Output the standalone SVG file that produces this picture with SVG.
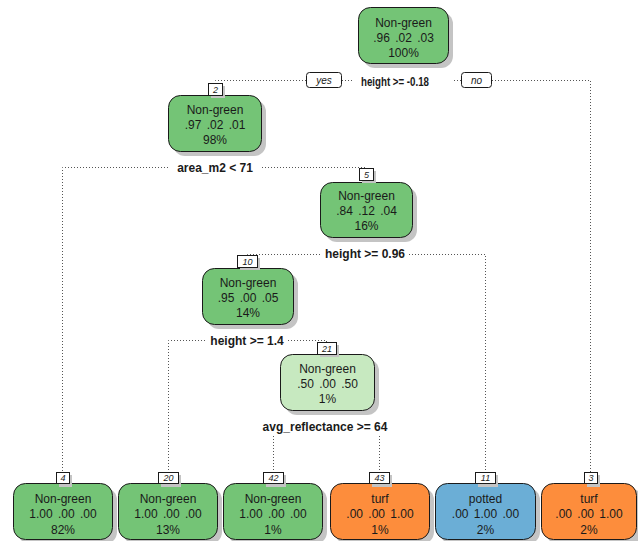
<svg xmlns="http://www.w3.org/2000/svg" width="638" height="541" viewBox="0 0 638 541">
<style>
.bx{stroke:#1a1a1a;stroke-width:1}
.g{fill:#74c476}
.lg{fill:#c7e9c0}
.o{fill:#fd8d3c}
.b{fill:#6baed6}
.sh{fill:#c4c4c4}
.t{font-family:"Liberation Sans",Arial,sans-serif;font-size:12px;fill:#1a1a1a;text-anchor:middle;word-spacing:2px}
.s{font-family:"Liberation Sans",Arial,sans-serif;font-size:12px;font-weight:bold;fill:#1a1a1a;text-anchor:middle}
.lb{fill:#fff;stroke:#1a1a1a;stroke-width:1}
.lt{font-family:"Liberation Sans",Arial,sans-serif;font-size:9px;font-style:italic;fill:#1a1a1a;text-anchor:middle}
.yn{font-family:"Liberation Sans",Arial,sans-serif;font-size:10px;font-style:italic;fill:#1a1a1a;text-anchor:middle}
.c{fill:none;stroke:#555;stroke-width:1;stroke-dasharray:1 2}
</style>
<rect width="638" height="541" fill="#fff"/>
<g id="connectors">
<path class="c" d="M306 80.5 H215.5 V83"/>
<path class="c" d="M342 80.5 H352"/>
<path class="c" d="M454 80.5 H461"/>
<path class="c" d="M492 80.5 H590.5 V472"/>
<path class="c" d="M168 167.5 H62.5 V472"/>
<path class="c" d="M262 167.5 H366.5 V168"/>
<path class="c" d="M320 254.5 H247.5 V255"/>
<path class="c" d="M409 254.5 H485.5 V472"/>
<path class="c" d="M205 340.5 H168.5 V472"/>
<path class="c" d="M288 340.5 H326.5 V342"/>
<path class="c" d="M273.5 436 V472"/>
<path class="c" d="M379.5 436 V472"/>
<rect x="306.5" y="72.5" width="35" height="15" rx="3" class="lb"/>
<text x="324" y="84" class="yn">yes</text>
<rect x="461.5" y="72.5" width="30" height="15" rx="3" class="lb"/>
<text x="476.5" y="84" class="yn">no</text>
</g>
<g id="node1">
<rect x="363" y="12" width="90" height="56" rx="12" class="sh"/>
<rect x="358.5" y="7.5" width="90" height="56" rx="12" class="g bx"/>
<text x="403.5" y="27" class="t">Non-green</text>
<text x="403.5" y="42" class="t">.96 .02 .03</text>
<text x="403.5" y="57" class="t">100%</text>
<text x="361" y="86" class="s" style="text-anchor:start" textLength="68" lengthAdjust="spacingAndGlyphs">height &gt;= -0.18</text>
</g>
<g id="node2">
<rect x="173" y="100" width="93" height="56" rx="12" class="sh"/>
<rect x="168.5" y="95.5" width="93" height="56" rx="12" class="g bx"/>
<rect x="211" y="86" width="14" height="12" class="sh"/>
<rect x="208.5" y="83.5" width="14" height="12" class="lb"/>
<text x="215.5" y="93" class="lt">2</text>
<text x="215" y="114" class="t">Non-green</text>
<text x="215" y="129" class="t">.97 .02 .01</text>
<text x="215" y="144" class="t">98%</text>
<text x="215" y="172" class="s">area_m2 &lt; 71</text>
</g>
<g id="node5">
<rect x="325" y="187" width="92" height="55" rx="12" class="sh"/>
<rect x="320.5" y="182.5" width="92" height="55" rx="12" class="g bx"/>
<rect x="362" y="171" width="14" height="12" class="sh"/>
<rect x="359.5" y="168.5" width="14" height="12" class="lb"/>
<text x="366.5" y="178" class="lt">5</text>
<text x="366.5" y="200" class="t">Non-green</text>
<text x="366.5" y="215" class="t">.84 .12 .04</text>
<text x="366.5" y="230" class="t">16%</text>
<text x="365" y="258" class="s">height &gt;= 0.96</text>
</g>
<g id="node10">
<rect x="207" y="273" width="91" height="56" rx="12" class="sh"/>
<rect x="202.5" y="268.5" width="91" height="56" rx="12" class="g bx"/>
<rect x="240" y="258" width="20" height="12" class="sh"/>
<rect x="237.5" y="255.5" width="20" height="12" class="lb"/>
<text x="247.5" y="265" class="lt">10</text>
<text x="248" y="287" class="t">Non-green</text>
<text x="248" y="302" class="t">.95 .00 .05</text>
<text x="248" y="317" class="t">14%</text>
<text x="247" y="345" class="s">height &gt;= 1.4</text>
</g>
<g id="node21">
<rect x="285" y="359" width="94" height="56" rx="12" class="sh"/>
<rect x="280.5" y="354.5" width="94" height="56" rx="12" class="lg bx"/>
<rect x="320" y="345" width="19" height="12" class="sh"/>
<rect x="317.5" y="342.5" width="19" height="12" class="lb"/>
<text x="327" y="352" class="lt">21</text>
<text x="327.5" y="373" class="t">Non-green</text>
<text x="327.5" y="388" class="t">.50 .00 .50</text>
<text x="327.5" y="403" class="t">1%</text>
<text x="325" y="431" class="s">avg_reflectance &gt;= 64</text>
</g>
<g id="node4">
<rect x="18" y="488" width="99" height="56" rx="12" class="sh"/>
<rect x="13.5" y="483.5" width="99" height="56" rx="12" class="g bx"/>
<rect x="59" y="475" width="13" height="12" class="sh"/>
<rect x="56.5" y="472.5" width="13" height="11" class="lb"/>
<text x="63" y="481" class="lt">4</text>
<text x="63" y="503" class="t">Non-green</text>
<text x="63" y="518" class="t">1.00 .00 .00</text>
<text x="63" y="534" class="t">82%</text>
</g>
<g id="node20">
<rect x="123" y="488" width="99" height="56" rx="12" class="sh"/>
<rect x="118.5" y="483.5" width="99" height="56" rx="12" class="g bx"/>
<rect x="161" y="475" width="20" height="12" class="sh"/>
<rect x="158.5" y="472.5" width="20" height="11" class="lb"/>
<text x="168.5" y="481" class="lt">20</text>
<text x="168" y="503" class="t">Non-green</text>
<text x="168" y="518" class="t">1.00 .00 .00</text>
<text x="168" y="534" class="t">13%</text>
</g>
<g id="node42">
<rect x="228" y="488" width="99" height="56" rx="12" class="sh"/>
<rect x="223.5" y="483.5" width="99" height="56" rx="12" class="g bx"/>
<rect x="266" y="475" width="20" height="12" class="sh"/>
<rect x="263.5" y="472.5" width="20" height="11" class="lb"/>
<text x="273.5" y="481" class="lt">42</text>
<text x="273" y="503" class="t">Non-green</text>
<text x="273" y="518" class="t">1.00 .00 .00</text>
<text x="273" y="534" class="t">1%</text>
</g>
<g id="node43">
<rect x="335" y="488" width="99" height="56" rx="12" class="sh"/>
<rect x="330.5" y="483.5" width="99" height="56" rx="12" class="o bx"/>
<rect x="372" y="475" width="20" height="12" class="sh"/>
<rect x="369.5" y="472.5" width="20" height="11" class="lb"/>
<text x="379.5" y="481" class="lt">43</text>
<text x="380" y="503" class="t">turf</text>
<text x="380" y="518" class="t">.00 .00 1.00</text>
<text x="380" y="534" class="t">1%</text>
</g>
<g id="node11">
<rect x="440" y="488" width="100" height="56" rx="12" class="sh"/>
<rect x="435.5" y="483.5" width="100" height="56" rx="12" class="b bx"/>
<rect x="478" y="475" width="20" height="12" class="sh"/>
<rect x="475.5" y="472.5" width="20" height="11" class="lb"/>
<text x="485.5" y="481" class="lt">11</text>
<text x="485.5" y="503" class="t">potted</text>
<text x="485.5" y="518" class="t">.00 1.00 .00</text>
<text x="485.5" y="534" class="t">2%</text>
</g>
<g id="node3">
<rect x="546" y="488" width="96" height="56" rx="12" class="sh"/>
<rect x="541.5" y="483.5" width="95" height="56" rx="12" class="o bx"/>
<rect x="587" y="475" width="13" height="12" class="sh"/>
<rect x="584.5" y="472.5" width="13" height="11" class="lb"/>
<text x="591" y="481" class="lt">3</text>
<text x="589" y="503" class="t">turf</text>
<text x="589" y="518" class="t">.00 .00 1.00</text>
<text x="589" y="534" class="t">2%</text>
</g>
</svg>
